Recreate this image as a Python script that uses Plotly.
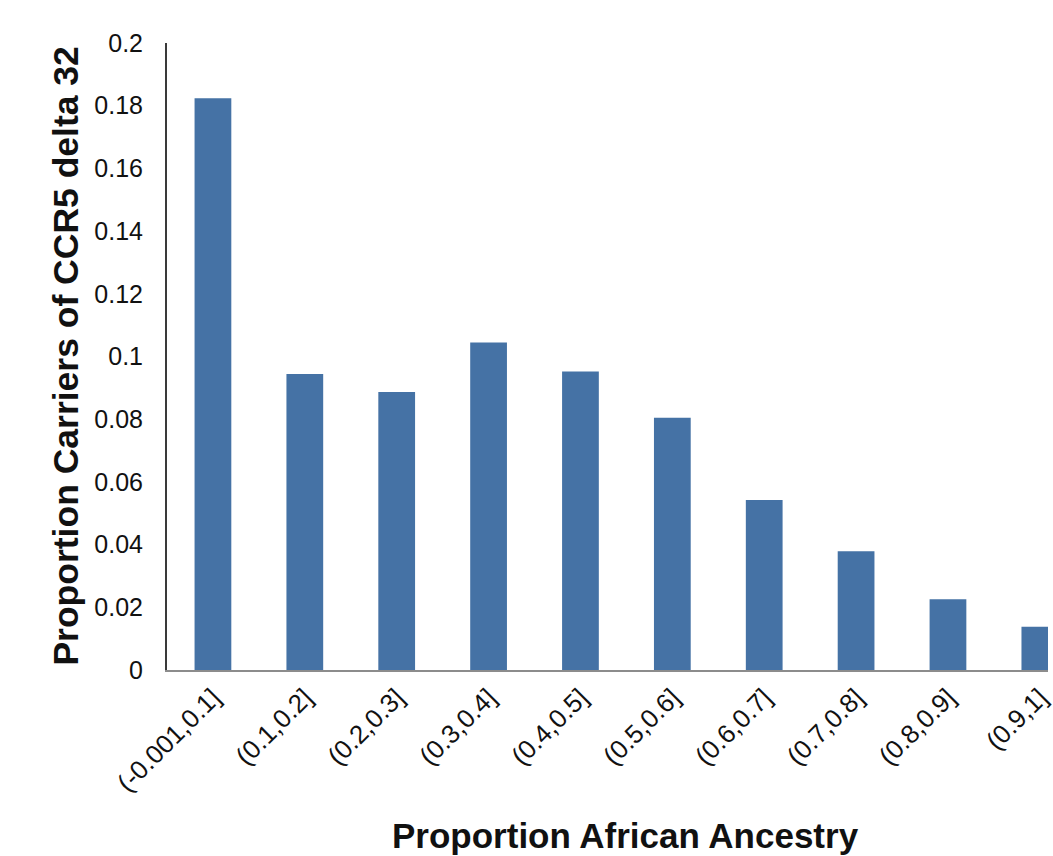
import plotly.graph_objects as go

categories = ["(-0.001,0.1]", "(0.1,0.2]", "(0.2,0.3]", "(0.3,0.4]", "(0.4,0.5]",
              "(0.5,0.6]", "(0.6,0.7]", "(0.7,0.8]", "(0.8,0.9]", "(0.9,1]"]
proportion_carriers = [0.1824, 0.0944, 0.0887, 0.1045, 0.0952,
                       0.0805, 0.0542, 0.0379, 0.0226, 0.0138]
y_tick_values = [0, 0.02, 0.04, 0.06, 0.08, 0.1, 0.12, 0.14, 0.16, 0.18, 0.2]
y_tick_labels = ["0", "0.02", "0.04", "0.06", "0.08", "0.1", "0.12", "0.14", "0.16", "0.18", "0.2"]

W, H = 1053, 856
L, R, T = 167, 0, 43
plot_h = 627
B = H - T - plot_h
plot_w = W - L - R
cat_px = 92.4
x_max = plot_w / cat_px - 0.5

fig = go.Figure(go.Bar(
    x=list(range(len(categories))),
    y=proportion_carriers,
    marker=dict(color="#4572a5", line=dict(width=0)),
    width=0.4,
))

font_family = "Liberation Sans, Arial, Helvetica, sans-serif"

fig.update_layout(
    width=W, height=H,
    margin=dict(l=L, r=R, t=T, b=B, pad=0),
    paper_bgcolor="white", plot_bgcolor="white",
    showlegend=False,
    font=dict(family=font_family, color="#111111"),
    xaxis=dict(
        range=[-0.5, x_max],
        tickmode="array",
        tickvals=list(range(len(categories))),
        ticktext=categories,
        tickangle=-45,
        tickfont=dict(size=26, color="#111111"),
        showgrid=False, zeroline=False,
        showline=True, linecolor="#8c8c8c", linewidth=2,
        ticks="", ticklabelstandoff=0, ticklabeloverflow="allow",
    ),
    yaxis=dict(
        range=[0, 0.2],
        tickmode="array",
        tickvals=y_tick_values,
        ticktext=y_tick_labels,
        tickfont=dict(size=25, color="#111111"),
        showgrid=False, zeroline=False,
        showline=True, linecolor="#3a3a3a", linewidth=2,
        ticks="", ticklabelstandoff=17,
    ),
    annotations=[
        dict(text="<b>Proportion African Ancestry</b>", xref="paper", yref="paper",
             x=(628 - L) / plot_w, y=(T + plot_h - 835) / plot_h,
             xanchor="center", yanchor="middle", showarrow=False,
             font=dict(size=35, color="#111111", family=font_family)),
        dict(text="<b>Proportion Carriers of CCR5 delta 32</b>", xref="paper", yref="paper",
             x=(65 - L) / plot_w, y=(T + plot_h - 356) / plot_h,
             xanchor="center", yanchor="middle", showarrow=False, textangle=-90,
             font=dict(size=35.5, color="#111111", family=font_family)),
    ],
)

fig.write_html(
    "out.html",
    config={"displayModeBar": False},
    post_script="document.body.style.margin='0';document.body.style.overflow='hidden';",
)
